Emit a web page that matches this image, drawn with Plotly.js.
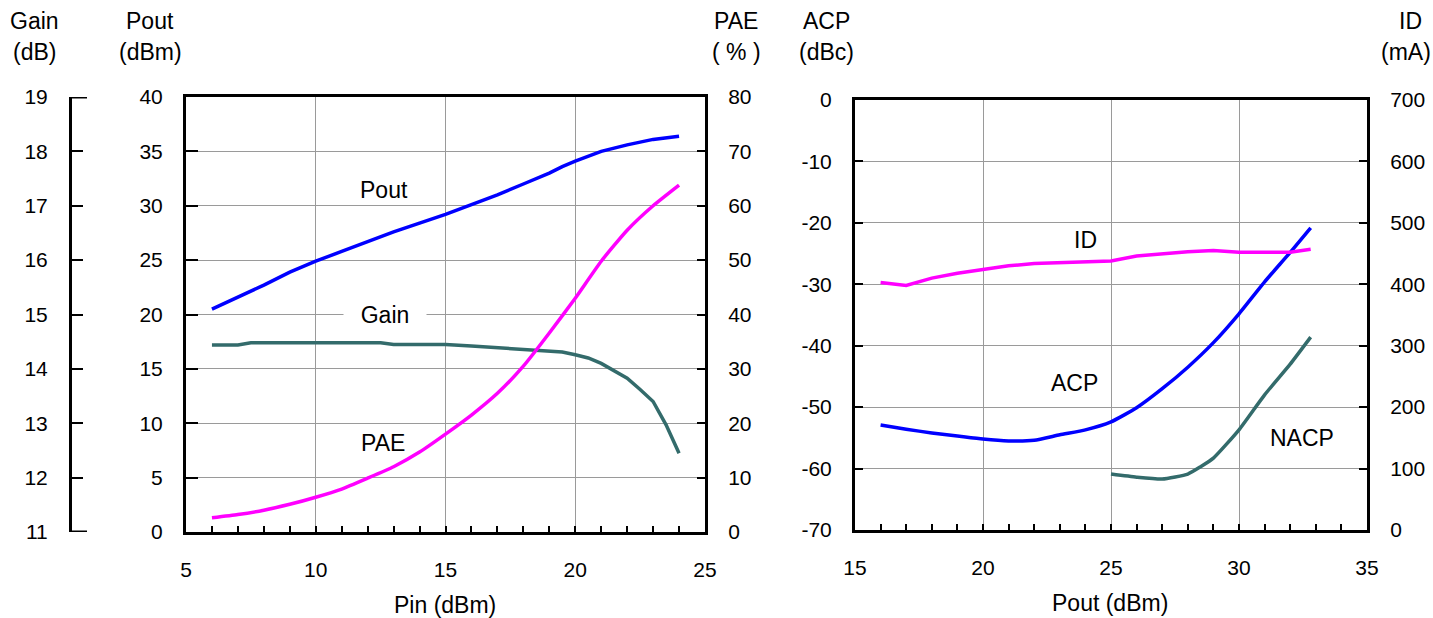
<!DOCTYPE html>
<html>
<head>
<meta charset="utf-8">
<script src="https://cdn.plot.ly/plotly-3.0.1.min.js"></script>
<style>html,body{margin:0;padding:0;background:#fff;}#chart{width:1433px;height:618px;}</style>
</head>
<body>
<div id="chart"></div>
<script>
// ---- Left panel data (x = Pin, dBm) ----
const pinPout = [6,7,8,9,10,11,12,13,14,15,16,17,18,19,19.5,20,21,22,23,24];
const poutVals = [20.5,21.6,22.7,23.9,24.9,25.8,26.7,27.6,28.4,29.2,30.1,31.0,32.0,33.0,33.6,34.1,35.0,35.6,36.1,36.4];

const pinGain = [6,7,7.5,8,9,10,11,12,12.5,13,14,15,16,17,18,19,19.5,20,20.5,21,21.5,22,22.5,23,23.5,24];
const gainVals = [14.44,14.44,14.48,14.48,14.48,14.48,14.48,14.48,14.48,14.45,14.45,14.45,14.42,14.39,14.37,14.34,14.31,14.26,14.2,14.1,13.97,13.83,13.62,13.4,12.97,12.45];

const pinPae = [6,7,8,9,10,11,12,13,14,15,16,17,18,19,20,21,22,23,24];
const paeVals = [2.6,3.2,4.0,5.1,6.4,7.9,9.9,12.0,14.7,18.0,21.5,25.5,30.5,36.6,43.0,49.8,55.5,60.0,63.8];

// ---- Right panel data (x = Pout, dBm) ----
const poutId = [16,17,18,19,20,21,22,23,24,25,26,27,28,29,30,31,32,32.8];
const idVals = [403,398,410,418,424,430,434,435,436,438,446,450,453,455,452,452,452,457];

const poutAcp = [16,17,18,19,20,21,22,23,24,25,26,27,28,29,30,31,32,32.8];
const acpVals = [-52.9,-53.6,-54.2,-54.7,-55.2,-55.5,-55.4,-54.5,-53.7,-52.4,-50.1,-47.0,-43.5,-39.5,-34.8,-29.6,-24.8,-20.8];

const poutNacp = [25,26,27,28,28.5,29,30,31,32,32.8];
const nacpVals = [-60.9,-61.4,-61.7,-60.9,-59.7,-58.3,-53.7,-48.0,-43.0,-38.6];

// tick labels for the ACP axis (hyphen-minus as in the original)
const acpTickVals = [-70,-60,-50,-40,-30,-20,-10,0];
const acpTickText = ['-70','-60','-50','-40','-30','-20','-10','0'];

// labels
const leftXTitle = 'Pin (dBm)';
const rightXTitle = 'Pout (dBm)';

const W = 1433, H = 618;
const px = v => v / W;
const py = v => 1 - v / H;

const FONT = 'Liberation Sans, Arial, sans-serif';
const tickFont = {family: FONT, size: 21, color: '#000'};
const txtFont = {family: FONT, size: 23, color: '#000'};
const BLUE = '#0000ff', MAG = '#ff00ff', TEAL = '#336b6b';
const LW = 3.5;

const traces = [
  {x: pinPout, y: poutVals, xaxis: 'x', yaxis: 'y', mode: 'lines', line: {color: BLUE, width: LW}, name: 'Pout'},
  {x: pinGain, y: gainVals, xaxis: 'x', yaxis: 'y2', mode: 'lines', line: {color: TEAL, width: LW}, name: 'Gain'},
  {x: pinPae, y: paeVals, xaxis: 'x', yaxis: 'y3', mode: 'lines', line: {color: MAG, width: LW, shape: 'spline', smoothing: 0.5}, name: 'PAE'},
  {x: poutId, y: idVals, xaxis: 'x2', yaxis: 'y5', mode: 'lines', line: {color: MAG, width: LW}, name: 'ID'},
  {x: poutAcp, y: acpVals, xaxis: 'x2', yaxis: 'y4', mode: 'lines', line: {color: BLUE, width: LW, shape: 'spline', smoothing: 0.5}, name: 'ACP'},
  {x: poutNacp, y: nacpVals, xaxis: 'x2', yaxis: 'y4', mode: 'lines', line: {color: TEAL, width: LW, shape: 'spline', smoothing: 0.5}, name: 'NACP'}
];

const frame = {showline: true, linecolor: '#000', linewidth: 3, zeroline: false, tickfont: tickFont, fixedrange: true};
const grid = {showgrid: true, gridcolor: '#9a9a9a', gridwidth: 1};

const xBase = Object.assign({}, frame, grid, {
  mirror: true, ticks: 'inside', ticklen: 6, tickwidth: 2, tickcolor: '#000', dtick: 5,
  minor: {dtick: 1, ticks: 'inside', ticklen: 6, tickwidth: 2, tickcolor: '#000', showgrid: false},
  ticklabelstandoff: 17
});

const layout = {
  width: W, height: H,
  margin: {l: 0, r: 0, t: 0, b: 0},
  paper_bgcolor: '#fff', plot_bgcolor: '#fff',
  showlegend: false,
  xaxis: Object.assign({}, xBase, {domain: [px(186), px(705)], range: [5, 25], anchor: 'y', tick0: 5}),
  yaxis: Object.assign({}, frame, grid, {domain: [py(532), py(97)], range: [0, 40], dtick: 5, anchor: 'x', mirror: true,
    ticks: 'inside', ticklen: 12, tickwidth: 2, tickcolor: '#000', ticklabelstandoff: 16}),
  yaxis2: Object.assign({}, frame, {overlaying: 'y', anchor: 'free', position: px(70), side: 'left', range: [11, 19], dtick: 1,
    showgrid: false, ticks: 'inside', ticklen: 11, tickwidth: 2, tickcolor: '#000', ticklabelstandoff: 17}),
  yaxis3: Object.assign({}, frame, {overlaying: 'y', anchor: 'x', side: 'right', range: [0, 80], dtick: 10,
    showgrid: false, ticks: 'inside', ticklen: 8, tickwidth: 2, tickcolor: '#000', ticklabelstandoff: 16}),
  xaxis2: Object.assign({}, xBase, {domain: [px(855), px(1367)], range: [15, 35], anchor: 'y4', tick0: 15}),
  yaxis4: Object.assign({}, frame, grid, {domain: [py(530), py(100)], range: [-70, 0], anchor: 'x2', mirror: true,
    tickmode: 'array', tickvals: acpTickVals, ticktext: acpTickText,
    ticks: 'inside', ticklen: 8, tickwidth: 2, tickcolor: '#000', ticklabelstandoff: 16}),
  yaxis5: Object.assign({}, frame, {overlaying: 'y4', anchor: 'x2', side: 'right', range: [0, 700], dtick: 100,
    showgrid: false, ticks: 'inside', ticklen: 8, tickwidth: 2, tickcolor: '#000', ticklabelstandoff: 16}),
  shapes: [
    {type: 'line', xref: 'paper', yref: 'y2', x0: px(70), x1: px(87), y0: 19, y1: 19, line: {color: '#000', width: 3}},
    {type: 'line', xref: 'paper', yref: 'y2', x0: px(70), x1: px(87), y0: 11, y1: 11, line: {color: '#000', width: 3}}
  ],
  annotations: []
};

function ann(text, x, y, extra) {
  layout.annotations.push(Object.assign({text: text, xref: 'paper', yref: 'paper', x: px(x), y: py(y),
    xanchor: 'center', yanchor: 'middle', showarrow: false, font: txtFont}, extra || {}));
}
// axis titles
ann('Gain', 34, 21); ann('(dB)', 34, 52);
ann('Pout', 150, 21); ann('(dBm)', 150, 52);
ann('PAE', 736, 21); ann('( % )', 736, 52);
ann('ACP', 826, 21); ann('(dBc)', 826, 52);
ann('ID', 1410, 21); ann('(mA)', 1406, 52);
ann(leftXTitle, 445, 605);
ann(rightXTitle, 1110, 603);
// series labels
ann('Pout', 384, 190);
ann('Gain', 385, 315, {bgcolor: '#fff', width: 80});
ann('PAE', 383, 443);
ann('ID', 1085, 240);
ann('ACP', 1074, 383);
ann('NACP', 1302, 438);

Plotly.newPlot('chart', traces, layout, {staticPlot: true, displayModeBar: false});
</script>
</body>
</html>
